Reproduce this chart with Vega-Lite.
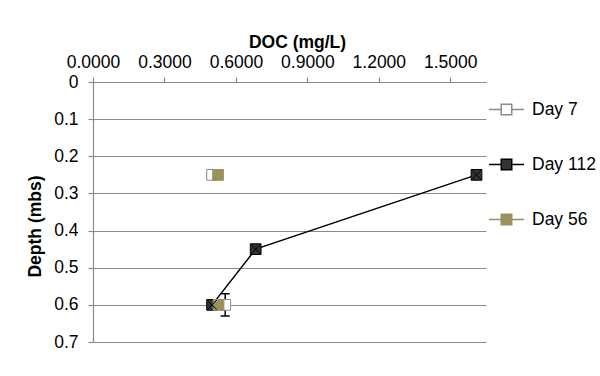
{
  "$schema": "https://vega.github.io/schema/vega-lite/v6.json",
  "autosize": {"type": "none"},
  "padding": {"left": 93, "top": 82, "right": 114, "bottom": 34},
  "width": 393,
  "height": 260,
  "background": "white",
  "config": {
    "font": "Liberation Sans",
    "view": {"stroke": null},
    "axis": {
      "domainColor": "#8a8a8a",
      "tickColor": "#8a8a8a",
      "gridColor": "#8a8a8a",
      "domainWidth": 1.2,
      "tickWidth": 1.2,
      "gridWidth": 1.2,
      "tickSize": 5,
      "labelFont": "Liberation Sans",
      "labelFontSize": 17.5,
      "labelColor": "#000000",
      "labelOverlap": false,
      "labelFlush": false,
      "titleFont": "Liberation Sans",
      "titleFontSize": 17.5,
      "titleFontWeight": "bold",
      "titleColor": "#000000"
    }
  },
  "datasets": {
    "points": [
      {"series": "Day 7", "doc": 0.50, "depth": 0.25},
      {"series": "Day 7", "doc": 0.555, "depth": 0.6},
      {"series": "Day 112", "doc": 1.61, "depth": 0.25},
      {"series": "Day 112", "doc": 0.683, "depth": 0.45},
      {"series": "Day 112", "doc": 0.50, "depth": 0.6},
      {"series": "Day 56", "doc": 0.525, "depth": 0.25},
      {"series": "Day 56", "doc": 0.527, "depth": 0.6}
    ],
    "errors": [
      {"series": "Day 7", "doc": 0.555, "lo": 0.57, "hi": 0.63}
    ]
  },
  "encoding": {
    "x": {
      "field": "doc",
      "type": "quantitative",
      "scale": {"domain": [0, 1.65], "nice": false, "zero": false},
      "axis": {
        "orient": "top",
        "title": "DOC (mg/L)",
        "values": [0, 0.3, 0.6, 0.9, 1.2, 1.5],
        "format": ".4f",
        "grid": false,
        "labelPadding": 10,
        "labelBaseline": "alphabetic",
        "titleX": 204,
        "titleY": -35,
        "titleBaseline": "alphabetic"
      }
    },
    "y": {
      "field": "depth",
      "type": "quantitative",
      "scale": {"domain": [0, 0.7], "nice": false, "zero": false, "reverse": true},
      "axis": {
        "title": "Depth (mbs)",
        "values": [0, 0.1, 0.2, 0.3, 0.4, 0.5, 0.6, 0.7],
        "format": "~g",
        "grid": true,
        "labelPadding": 10,
        "titleX": -58,
        "titleY": 144,
        "titleBaseline": "middle"
      }
    }
  },
  "layer": [
    {
      "data": {"name": "errors"},
      "mark": {"type": "rule", "color": "#000000", "strokeWidth": 1.5},
      "encoding": {
        "y": {"field": "lo", "type": "quantitative", "title": "Depth (mbs)"},
        "y2": {"field": "hi"}
      }
    },
    {
      "data": {"name": "errors"},
      "mark": {"type": "tick", "orient": "horizontal", "color": "#000000", "size": 9, "thickness": 1.5, "opacity": 1},
      "encoding": {
        "y": {"field": "lo", "type": "quantitative", "title": "Depth (mbs)"}
      }
    },
    {
      "data": {"name": "errors"},
      "mark": {"type": "tick", "orient": "horizontal", "color": "#000000", "size": 9, "thickness": 1.5, "opacity": 1},
      "encoding": {
        "y": {"field": "hi", "type": "quantitative", "title": "Depth (mbs)"}
      }
    },
    {
      "data": {"name": "points"},
      "transform": [{"filter": "datum.series === 'Day 112'"}],
      "mark": {"type": "line", "color": "#000000", "strokeWidth": 1.5},
      "encoding": {
        "order": {"field": "depth", "type": "quantitative"}
      }
    },
    {
      "data": {"name": "points"},
      "mark": {"type": "point", "shape": "square", "filled": true, "size": 115, "opacity": 1, "strokeWidth": 1},
      "encoding": {
        "fill": {
          "field": "series",
          "type": "nominal",
          "scale": {"domain": ["Day 7", "Day 112", "Day 56"], "range": ["#ffffff", "#333333", "#9c915e"]},
          "legend": {
            "title": null,
            "orient": "none",
            "legendX": 395,
            "legendY": 9,
            "padding": 0,
            "rowPadding": 28,
            "symbolType": "M-1,0H-0.3M0.3,0H1M-0.3,-0.3H0.3V0.3H-0.3Z",
            "symbolSize": 1225,
            "symbolStrokeWidth": 1.5,
            "symbolOpacity": 1,
            "labelFont": "Liberation Sans",
            "labelFontSize": 17.5,
            "labelColor": "#000000",
            "labelOffset": 7
          }
        },
        "stroke": {
          "field": "series",
          "type": "nominal",
          "scale": {"domain": ["Day 7", "Day 112", "Day 56"], "range": ["#8a8a8a", "#000000", "#9c915e"]},
          "legend": {
            "title": null,
            "orient": "none",
            "legendX": 395,
            "legendY": 9,
            "padding": 0,
            "rowPadding": 28,
            "symbolType": "M-1,0H-0.3M0.3,0H1M-0.3,-0.3H0.3V0.3H-0.3Z",
            "symbolSize": 1225,
            "symbolStrokeWidth": 1.5,
            "symbolOpacity": 1,
            "labelFont": "Liberation Sans",
            "labelFontSize": 17.5,
            "labelColor": "#000000",
            "labelOffset": 7
          }
        }
      }
    },
    {
      "data": {"name": "points"},
      "transform": [{"filter": "datum.series === 'Day 112'"}],
      "mark": {"type": "point", "shape": "M-1,-1L1,1M1,-1L-1,1", "filled": false, "size": 90, "opacity": 1, "strokeWidth": 1, "stroke": "#000000"}
    }
  ]
}
